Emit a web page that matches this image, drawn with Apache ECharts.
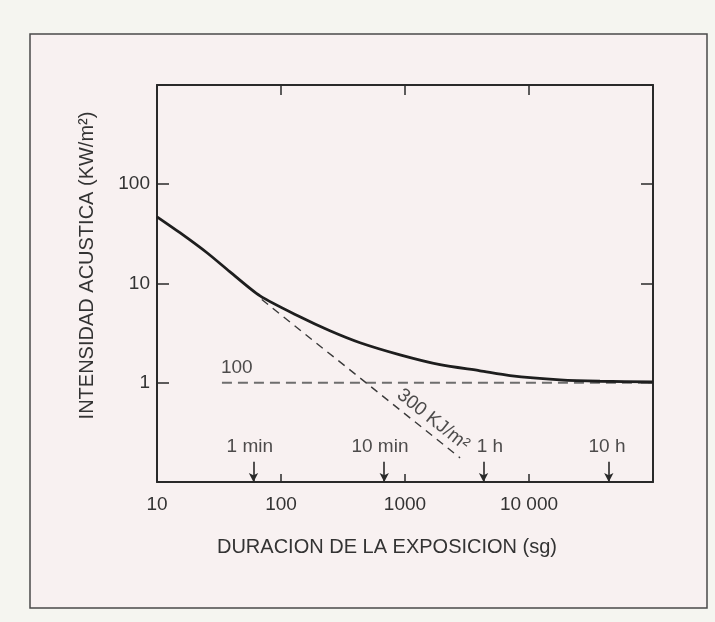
<!DOCTYPE html>
<html>
<head>
<meta charset="utf-8">
<script src="https://cdn.jsdelivr.net/npm/echarts@6/dist/echarts.min.js"></script>
<style>
html,body{margin:0;padding:0;background:#f5f5f0;}
#chart{width:715px;height:622px;}
</style>
</head>
<body>
<div id="chart"></div>
<script>
// ---- data ----
const curveT = [10, 15.3, 25.3, 38.8, 67.8, 142, 248, 434, 912, 1916, 4027, 7030, 17800, 37400, 100000];
const curveI = [47, 32.5, 20.4, 13.1, 7.5, 4.62, 3.34, 2.53, 1.91, 1.52, 1.32, 1.18, 1.07, 1.035, 1.02];

const refT = [33.4, 100000];          // horizontal dashed "100" line
const refI = [1, 1];

const doseT = [70, 2780];              // 300 KJ/m2 dashed line
const doseI = [6.9, 0.175];

const xTickValues = [10, 100, 1000, 10000];
const xTickLabels = ['10', '100', '1000', '10 000'];
const yTickValues = [1, 10, 100];
const yTickLabels = ['1', '10', '100'];

const timeNames = ['1 min', '10 min', '1 h', '10 h'];
const timeArrowT = [60, 680, 4300, 44000];
const timeLabelT = [56, 628, 4842, 42560];
const timeLabelI = 0.226;
const arrowTopI = 0.16;

const refLabel = {text: '100', t: 44, i: 1.42};
const doseLabel = {text: '300 KJ/m²', t: 1683, i: 0.424};

// ---- chart ----
const FONT = 'Liberation Sans';
const INK = '#2a2a2a';

function findLabel(v, vals, labels) {
  for (let k = 0; k < vals.length; k++) {
    if (Math.abs(v - vals[k]) / vals[k] < 1e-6) return labels[k];
  }
  return '';
}

const chart = echarts.init(document.getElementById('chart'), null, {renderer: 'canvas'});

const axisLine = {show: true, lineStyle: {color: INK, width: 2}};

const option = {
  animation: false,
  backgroundColor: 'transparent',
  graphic: [{
    type: 'rect',
    z: -10,
    shape: {x: 30, y: 34, width: 677, height: 574},
    style: {fill: '#f8f1f1', stroke: '#4a4a4a', lineWidth: 1.5}
  }],
  grid: {left: 157, right: 62, top: 85, bottom: 140},
  xAxis: [{
    type: 'log', logBase: 10, min: 10, max: 100000, position: 'bottom',
    axisLine: axisLine,
    axisTick: {show: true, inside: true, length: 8, lineStyle: {color: INK, width: 1.5}},
    minorTick: {show: false},
    splitLine: {show: false},
    axisLabel: {
      margin: 13, color: '#333', fontFamily: FONT, fontSize: 19,
      formatter: v => findLabel(v, xTickValues, xTickLabels)
    },
    name: 'DURACION DE LA EXPOSICION (sg)',
    nameLocation: 'middle', nameGap: 55,
    nameTextStyle: {color: '#333', fontFamily: FONT, fontSize: 20, padding: [0, 36, 0, 0]}
  }, {
    type: 'log', logBase: 10, min: 10, max: 100000, position: 'top',
    axisLine: axisLine,
    axisTick: {show: true, inside: true, length: 10, lineStyle: {color: INK, width: 1.5}},
    axisLabel: {show: false}, splitLine: {show: false}
  }],
  yAxis: [{
    type: 'log', logBase: 10, min: 0.1, max: 1000, position: 'left',
    axisLine: axisLine,
    axisTick: {show: true, inside: true, length: 12, lineStyle: {color: INK, width: 1.5}},
    minorTick: {show: false},
    splitLine: {show: false},
    axisLabel: {
      margin: 7, color: '#333', fontFamily: FONT, fontSize: 19,
      formatter: v => findLabel(v, yTickValues, yTickLabels)
    },
    name: 'INTENSIDAD ACUSTICA (KW/m²)',
    nameLocation: 'middle', nameGap: 60, nameRotate: 90,
    nameTextStyle: {color: '#333', fontFamily: FONT, fontSize: 20, padding: [0, 0, 0, 36]}
  }, {
    type: 'log', logBase: 10, min: 0.1, max: 1000, position: 'right',
    axisLine: axisLine,
    axisTick: {show: true, inside: true, length: 12, lineStyle: {color: INK, width: 1.5}},
    axisLabel: {show: false}, splitLine: {show: false}
  }],
  series: [
    {
      type: 'line', name: 'curve', smooth: 0.25, showSymbol: false,
      data: curveT.map((t, k) => [t, curveI[k]]),
      lineStyle: {color: '#1e1e1e', width: 2.8}, z: 5
    },
    {
      type: 'line', name: 'ref', showSymbol: false,
      data: refT.map((t, k) => [t, refI[k]]),
      lineStyle: {color: '#6e6e6e', width: 1.8, type: [10, 6]}, z: 3
    },
    {
      type: 'line', name: 'dose', showSymbol: false,
      data: doseT.map((t, k) => [t, doseI[k]]),
      lineStyle: {color: '#3a3a3a', width: 1.4, type: [8, 6]}, z: 3
    },
    {
      type: 'scatter', name: 'labels', symbolSize: 0, silent: true,
      data: [
        {value: [refLabel.t, refLabel.i], label: {formatter: refLabel.text}},
        {value: [doseLabel.t, doseLabel.i], label: {formatter: doseLabel.text, rotate: -38.6}}
      ].concat(timeNames.map((n, k) => ({value: [timeLabelT[k], timeLabelI], label: {formatter: n}}))),
      label: {show: true, position: 'inside', color: '#222', fontFamily: FONT, fontSize: 19},
      markLine: {
        silent: true, symbol: ['none', 'arrow'], symbolSize: [7, 9],
        label: {show: false},
        lineStyle: {color: INK, width: 1.6, type: 'solid'},
        data: timeArrowT.map(t => [{coord: [t, arrowTopI]}, {coord: [t, 0.1]}])
      }
    }
  ]
};

chart.setOption(option);
</script>
</body>
</html>
